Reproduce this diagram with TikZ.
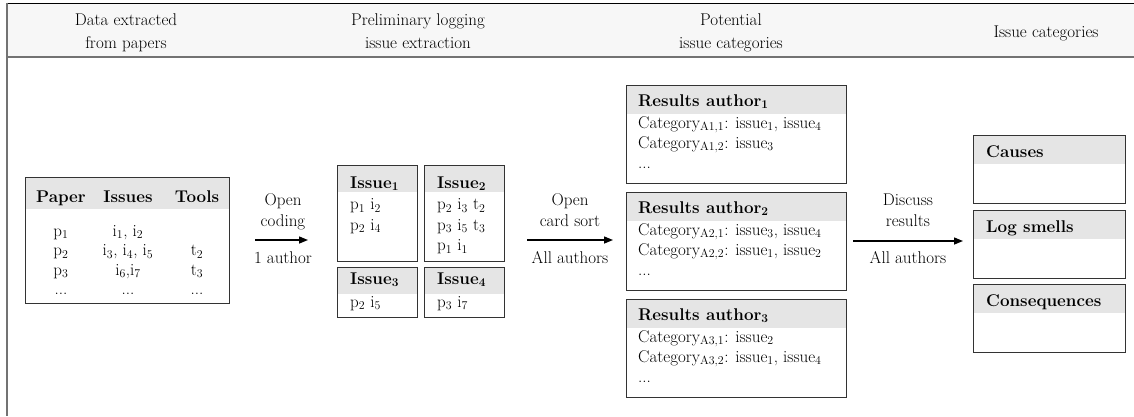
\documentclass[tikz,border=0pt]{standalone}
\usetikzlibrary{arrows.meta}
\begin{document}
\begin{tikzpicture}[x=1pt,y=-1pt,
  font=\fontsize{17}{20.5}\selectfont,
  bandbox/.style={draw=black!80, line width=1.3pt, fill=white, inner sep=0pt, anchor=north west,
    path picture={\fill[black!10] (path picture bounding box.north west) rectangle ([yshift=-#1]path picture bounding box.north east);}},
  lbl/.style={inner sep=0pt, anchor=base},
  lblw/.style={inner sep=0pt, anchor=base west},
  flow/.style={line width=1.4pt, -{Triangle[length=9pt,width=7pt]}},
  hdr/.style={inner sep=0pt, anchor=base, align=center}]
\useasboundingbox (0,0) rectangle (1134,416);
% header band and frame
\fill[black!3] (7,3) rectangle (1134,57);
\draw[black, line width=0.8pt] (7,3) -- (1134,3);
\draw[black!55, line width=2.4pt] (7,57) -- (1134,57);
\draw[black!55, line width=2pt] (7,2.6) -- (7,416);
\node[hdr] (h1a) at (126,25) {Data extracted};
\node[hdr] (h1b) at (126,48) {from papers};
\node[hdr] (h2a) at (418,25) {Preliminary logging};
\node[hdr] (h2b) at (418,48) {issue extraction};
\node[hdr] (h3a) at (731,25) {Potential};
\node[hdr] (h3b) at (731,48) {issue categories};
\node[hdr] (h4) at (1046,37) {Issue categories};
% table
\node[bandbox=31pt, minimum width=204pt, minimum height=126pt] (tab) at (25,177) {};
\node[lbl] (th1) at (61,202) {\textbf{Paper}};
\node[lbl] (th2) at (128,202) {\textbf{Issues}};
\node[lbl] (th3) at (197,202) {\textbf{Tools}};
\node[lbl] (r1a) at (61,236) {p\textsubscript{1}};
\node[lbl] (r1b) at (128,236) {i\textsubscript{1}, i\textsubscript{2}};
\node[lbl] (r2a) at (61,255.5) {p\textsubscript{2}};
\node[lbl] (r2b) at (128,255.5) {i\textsubscript{3}, i\textsubscript{4}, i\textsubscript{5}};
\node[lbl] (r2c) at (197,255.5) {t\textsubscript{2}};
\node[lbl] (r3a) at (61,275) {p\textsubscript{3}};
\node[lbl] (r3b) at (128,275) {i\textsubscript{6},i\textsubscript{7}};
\node[lbl] (r3c) at (197,275) {t\textsubscript{3}};
\node[lbl] (r4a) at (61,294.5) {...};
\node[lbl] (r4b) at (128,294.5) {...};
\node[lbl] (r4c) at (197,294.5) {...};
% issue boxes
\node[bandbox=26pt, minimum width=80pt, minimum height=96pt] (is1) at (337,165) {};
\node[bandbox=26pt, minimum width=80pt, minimum height=96pt] (is2) at (424,165) {};
\node[bandbox=26pt, minimum width=80pt, minimum height=50pt] (is3) at (337,267) {};
\node[bandbox=26pt, minimum width=80pt, minimum height=50pt] (is4) at (424,267) {};
\node[lblw] (is1h) at (350,188) {\textbf{Issue\textsubscript{1}}};
\node[lblw] (is1a) at (350,209.5) {p\textsubscript{1} i\textsubscript{2}};
\node[lblw] (is1b) at (350,230) {p\textsubscript{2} i\textsubscript{4}};
\node[lblw] (is2h) at (437,188) {\textbf{Issue\textsubscript{2}}};
\node[lblw] (is2a) at (437,209.5) {p\textsubscript{2} i\textsubscript{3} t\textsubscript{2}};
\node[lblw] (is2b) at (437,230) {p\textsubscript{3} i\textsubscript{5} t\textsubscript{3}};
\node[lblw] (is2c) at (437,250.5) {p\textsubscript{1} i\textsubscript{1}};
\node[lblw] (is3h) at (350,284) {\textbf{Issue\textsubscript{3}}};
\node[lblw] (is3a) at (350,307) {p\textsubscript{2} i\textsubscript{5}};
\node[lblw] (is4h) at (437,284) {\textbf{Issue\textsubscript{4}}};
\node[lblw] (is4a) at (437,307) {p\textsubscript{3} i\textsubscript{7}};
% results boxes
\node[bandbox=28pt, minimum width=220pt, minimum height=98pt] (ra1) at (626,85) {};
\node[bandbox=28pt, minimum width=220pt, minimum height=98pt] (ra2) at (626,192) {};
\node[bandbox=28pt, minimum width=220pt, minimum height=98pt] (ra3) at (626,299) {};
\node[lblw] (ra1h) at (638,106) {\textbf{Results author\textsubscript{1}}};
\node[lblw] (ra1a) at (638,128) {Category\textsubscript{A1,1}: issue\textsubscript{1}, issue\textsubscript{4}};
\node[lblw] (ra1b) at (638,148) {Category\textsubscript{A1,2}: issue\textsubscript{3}};
\node[lblw] (ra1c) at (638,168) {...};
\node[lblw] (ra2h) at (638,213) {\textbf{Results author\textsubscript{2}}};
\node[lblw] (ra2a) at (638,235) {Category\textsubscript{A2,1}: issue\textsubscript{3}, issue\textsubscript{4}};
\node[lblw] (ra2b) at (638,255) {Category\textsubscript{A2,2}: issue\textsubscript{1}, issue\textsubscript{2}};
\node[lblw] (ra2c) at (638,275) {...};
\node[lblw] (ra3h) at (638,320) {\textbf{Results author\textsubscript{3}}};
\node[lblw] (ra3a) at (638,342) {Category\textsubscript{A3,1}: issue\textsubscript{2}};
\node[lblw] (ra3b) at (638,362) {Category\textsubscript{A3,2}: issue\textsubscript{1}, issue\textsubscript{4}};
\node[lblw] (ra3c) at (638,382) {...};
% final boxes
\node[bandbox=28pt, minimum width=152pt, minimum height=68pt] (fc1) at (973,135) {};
\node[bandbox=28pt, minimum width=152pt, minimum height=68pt] (fc2) at (973,210) {};
\node[bandbox=28pt, minimum width=152pt, minimum height=68pt] (fc3) at (973,284) {};
\node[lblw] (fc1h) at (986,157) {\textbf{Causes}};
\node[lblw] (fc2h) at (986,232) {\textbf{Log smells}};
\node[lblw] (fc3h) at (986,306) {\textbf{Consequences}};
% arrows
\coordinate (a1s) at (255,240);
\coordinate (a1e) at (308,240);
\coordinate (a2s) at (527,240);
\coordinate (a2e) at (613,240);
\coordinate (a3s) at (853,241);
\coordinate (a3e) at (963,241);
\draw[flow] (a1s) -- (a1e);
\draw[flow] (a2s) -- (a2e);
\draw[flow] (a3s) -- (a3e);
\node[lbl] (l1a) at (283,205) {Open};
\node[lbl] (l1b) at (283,226) {coding};
\node[lbl] (l1c) at (283,263) {1 author};
\node[lbl] (l2a) at (570,205) {Open};
\node[lbl] (l2b) at (570,226) {card sort};
\node[lbl] (l2c) at (570,263) {All authors};
\node[lbl] (l3a) at (908,205) {Discuss};
\node[lbl] (l3b) at (908,226) {results};
\node[lbl] (l3c) at (908,263) {All authors};
\end{tikzpicture}
\end{document}
